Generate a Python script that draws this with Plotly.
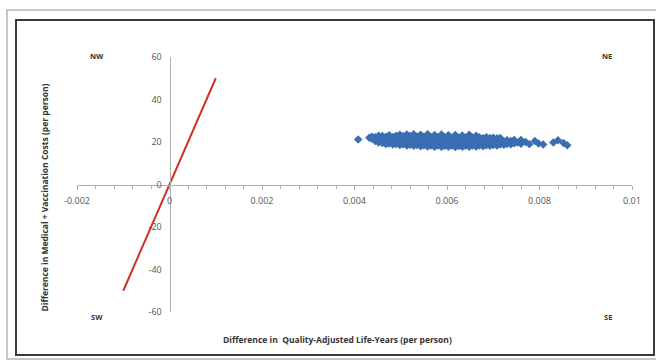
import plotly.graph_objects as go

# Incremental QALYs and costs (per person), read from the cloud
qaly_diff = [
    0.00408, 0.00432, 0.00438, 0.00438, 0.00445, 0.00445,
    0.00452, 0.00452, 0.00452, 0.00460, 0.00460, 0.00460,
    0.00468, 0.00468, 0.00468, 0.00475, 0.00475, 0.00475,
    0.00483, 0.00483, 0.00483, 0.00490, 0.00490, 0.00490,
    0.00498, 0.00498, 0.00498, 0.00498, 0.00505, 0.00505, 0.00505,
    0.00513, 0.00513, 0.00513, 0.00513, 0.00520, 0.00520, 0.00520,
    0.00528, 0.00528, 0.00528, 0.00528, 0.00535, 0.00535, 0.00535,
    0.00543, 0.00543, 0.00543, 0.00543, 0.00550, 0.00550, 0.00550,
    0.00558, 0.00558, 0.00558, 0.00558, 0.00565, 0.00565, 0.00565,
    0.00573, 0.00573, 0.00573, 0.00573, 0.00580, 0.00580, 0.00580,
    0.00588, 0.00588, 0.00588, 0.00588, 0.00595, 0.00595, 0.00595,
    0.00603, 0.00603, 0.00603, 0.00603, 0.00610, 0.00610, 0.00610,
    0.00618, 0.00618, 0.00618, 0.00618, 0.00625, 0.00625, 0.00625,
    0.00633, 0.00633, 0.00633, 0.00633, 0.00640, 0.00640, 0.00640,
    0.00648, 0.00648, 0.00648, 0.00648, 0.00655, 0.00655, 0.00655,
    0.00663, 0.00663, 0.00663, 0.00663, 0.00670, 0.00670, 0.00670,
    0.00678, 0.00678, 0.00678, 0.00685, 0.00685, 0.00685,
    0.00693, 0.00693, 0.00693, 0.00700, 0.00700, 0.00700,
    0.00708, 0.00708, 0.00708, 0.00715, 0.00715, 0.00715,
    0.00723, 0.00723, 0.00730, 0.00730, 0.00738, 0.00738,
    0.00745, 0.00745, 0.00752, 0.00760, 0.00760, 0.00770,
    0.00778, 0.00790, 0.00798, 0.00808, 0.00830, 0.00840,
    0.00852, 0.00860,
]
cost_diff = [
    21.2, 22.0, 21.5, 22.5, 20.5, 22.3,
    19.8, 21.6, 23.0, 19.5, 21.2, 22.8,
    19.0, 20.8, 22.5, 19.3, 21.3, 23.2,
    18.8, 20.6, 22.4, 19.1, 21.0, 23.0,
    18.6, 20.4, 22.2, 23.4, 18.9, 20.9, 22.7,
    18.4, 20.3, 22.1, 23.5, 18.7, 20.8, 22.8,
    18.2, 20.1, 22.0, 23.6, 18.6, 20.6, 22.6,
    18.0, 19.9, 21.8, 23.4, 18.5, 20.5, 22.5,
    17.9, 19.8, 21.7, 23.6, 18.4, 20.4, 22.4,
    17.8, 19.7, 21.6, 23.3, 18.3, 20.3, 22.3,
    17.7, 19.6, 21.5, 23.5, 18.2, 20.2, 22.2,
    17.8, 19.7, 21.6, 23.2, 18.3, 20.2, 22.1,
    17.6, 19.5, 21.4, 23.3, 18.1, 20.0, 22.0,
    17.7, 19.6, 21.5, 23.1, 18.2, 20.1, 22.0,
    17.8, 19.7, 21.6, 23.4, 18.3, 20.2, 22.1,
    17.9, 19.8, 21.7, 23.0, 18.4, 20.3, 22.2,
    18.0, 19.9, 21.8, 18.5, 20.4, 22.3,
    18.2, 20.0, 21.9, 18.6, 20.5, 22.0,
    18.4, 20.2, 21.8, 18.8, 20.6, 21.9,
    18.7, 20.3, 19.1, 20.8, 18.9, 20.5,
    19.4, 20.9, 19.8, 19.2, 21.0, 20.0,
    19.0, 20.5, 19.3, 18.8, 19.8, 20.8,
    19.5, 18.5,
]

# Willingness-to-pay reference line
threshold_x = [-0.001, 0.001]
threshold_y = [-50, 50]

x_tick_vals = [-0.002, 0, 0.002, 0.004, 0.006, 0.008, 0.01]
x_tick_text = ["-0.002", "0", "0.002", "0.004", "0.006", "0.008", "0.01"]
y_tick_vals = [-60, -40, -20, 0, 20, 40, 60]
y_tick_text = ["-60", "-40", "-20", "0", "20", "40", "60"]

quadrant_labels = ["NW", "NE", "SW", "SE"]

FONT = "Open Sans, Roboto, Liberation Sans, sans-serif"

fig = go.Figure()
fig.add_trace(go.Scatter(
    x=threshold_x, y=threshold_y, mode="lines",
    line=dict(color="#d0302a", width=2), showlegend=False, hoverinfo="skip",
))
fig.add_trace(go.Scatter(
    x=qaly_diff, y=cost_diff, mode="markers",
    marker=dict(symbol="diamond", size=6.5, color="#3a6db2", line=dict(width=0)),
    showlegend=False,
))

W, H = 656, 362
L, R, T, B = 77, 24, 57, 50
pw, ph = W - L - R, H - T - B

def pu(px):
    return (px - L) / pw

def pv(py):
    return 1 - (py - T) / ph

x_range = [-0.002, 0.01]
y_range = [-60, 60]
x_zero_pos = (0 - x_range[0]) / (x_range[1] - x_range[0])
y_zero_pos = (0 - y_range[0]) / (y_range[1] - y_range[0])

fig.update_layout(
    width=W, height=H,
    margin=dict(l=L, r=R, t=T, b=B),
    paper_bgcolor="white", plot_bgcolor="white",
    font=dict(family=FONT, size=9, color="#555555"),
    xaxis=dict(
        range=x_range, anchor="free", position=y_zero_pos,
        tickvals=x_tick_vals, ticktext=x_tick_text,
        showline=True, linecolor="#b0b0b0", linewidth=1,
        ticks="outside", ticklen=4, tickcolor="#b0b0b0",
        minor=dict(dtick=0.0004, ticks="outside", ticklen=3, tickcolor="#b0b0b0", showgrid=False),
        showgrid=False, zeroline=False, ticklabelstandoff=4,
        tickfont=dict(size=9, color="#555555"),
    ),
    yaxis=dict(
        range=y_range, anchor="free", position=x_zero_pos,
        tickvals=y_tick_vals, ticktext=y_tick_text,
        showline=True, linecolor="#b0b0b0", linewidth=1,
        ticks="", showgrid=False, zeroline=False, ticklabelstandoff=6,
        tickfont=dict(size=9, color="#555555"),
    ),
    shapes=[
        dict(type="rect", xref="paper", yref="paper",
             x0=pu(7), x1=pu(657), y0=pv(359), y1=pv(10),
             line=dict(color="#b5b5b5", width=1.5), fillcolor="rgba(0,0,0,0)"),
        dict(type="rect", xref="paper", yref="paper",
             x0=pu(16), x1=pu(654), y0=pv(355), y1=pv(20),
             line=dict(color="#3a3a3a", width=2), fillcolor="rgba(0,0,0,0)"),
    ],
)

quad_pos = [(88, 49), (614, 49), (89, 324), (614, 324)]
for lab, (px, py) in zip(quadrant_labels, quad_pos):
    fig.add_annotation(x=pu(px), y=pv(py), xref="paper", yref="paper",
                       text=f"<b>{lab}</b>", showarrow=False,
                       font=dict(family=FONT, size=7.5, color="#333333"))

fig.add_annotation(x=pu(337), y=pv(347), xref="paper", yref="paper",
                   text="<b>Difference in  Quality-Adjusted Life-Years (per person)</b>",
                   showarrow=False, font=dict(family=FONT, size=8.5, color="#333333"))
fig.add_annotation(x=pu(36), y=pv(198), xref="paper", yref="paper",
                   text="<b>Difference in Medical + Vaccination Costs (per person)</b>",
                   textangle=-90, showarrow=False,
                   font=dict(family=FONT, size=8.5, color="#333333"))

fig.write_html(
    "out.html",
    config={"displayModeBar": False},
    post_script="document.body.style.margin='0';document.body.style.overflow='hidden';",
)
